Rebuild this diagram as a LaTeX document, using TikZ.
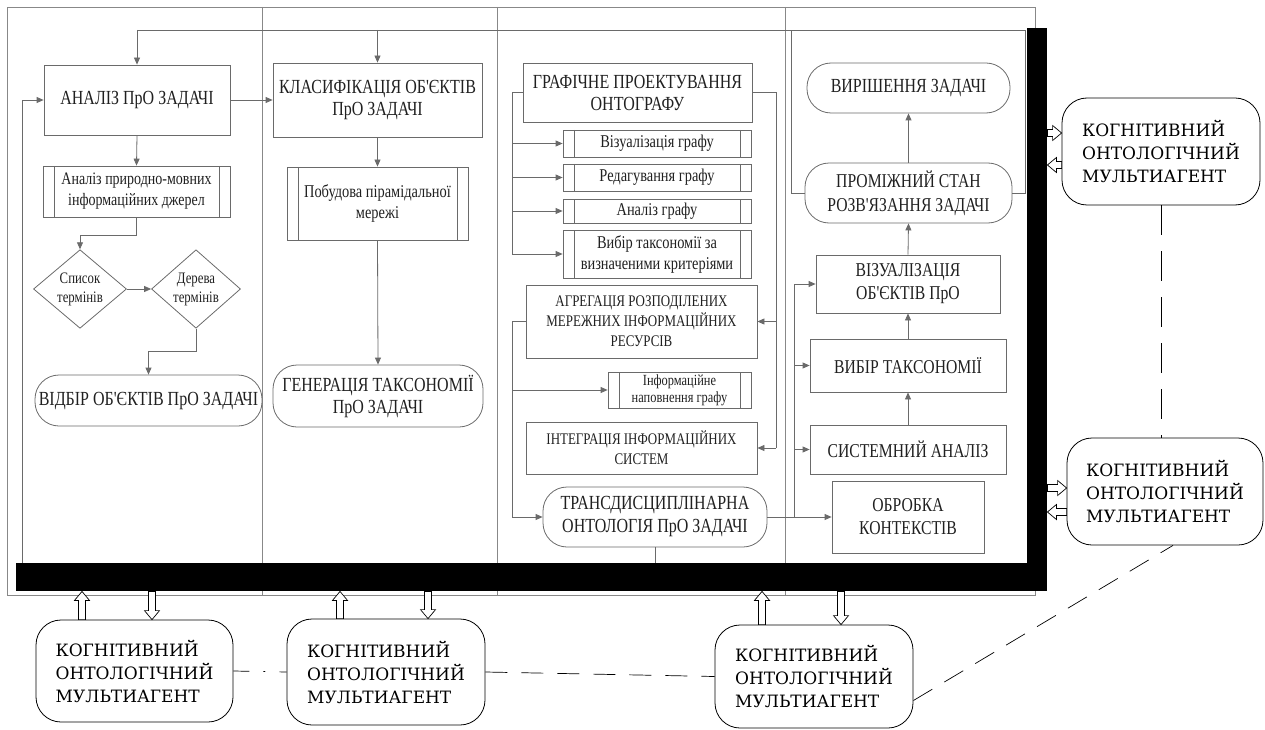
\documentclass[tikz,border=0pt]{standalone}
\usepackage{fontspec}
\setmainfont{Liberation Serif}
\newfontfamily\boxfont{Liberation Serif}[FakeStretch=0.8]
\newfontfamily\agentfont{DejaVu Serif}
\usetikzlibrary{arrows.meta,positioning,shapes.geometric,calc}
\definecolor{linec}{HTML}{6A6A6A}
\definecolor{txtc}{HTML}{202020}

\begin{document}
\begin{tikzpicture}[x=1pt, y=-1pt, line width=0.8pt,
  proc/.style={rectangle, draw=linec, text=txtc, align=center, inner sep=1pt, font=\boxfont\fontsize{20}{22}\selectfont},
  sub/.style={proc, font=\boxfont\fontsize{18}{21}\selectfont, path picture={\draw[linec] ([xshift=11pt]path picture bounding box.north west) -- ([xshift=11pt]path picture bounding box.south west) ([xshift=-11pt]path picture bounding box.north east) -- ([xshift=-11pt]path picture bounding box.south east);}},
  term/.style={proc, rounded corners=24pt},
  dec/.style={diamond, draw=linec, text=txtc, align=center, inner sep=0pt, font=\boxfont\fontsize{16}{19}\selectfont},
  agent/.style={draw=black, rounded corners=25pt, align=left, text=black, font=\agentfont\fontsize{17}{23}\selectfont},
  bar/.style={fill=black, inner sep=0pt},
  frame/.style={draw=linec!80, line width=0.6pt},
  wire/.style={draw=linec},
  flow/.style={draw=linec, -{Triangle[length=7pt, width=6pt]}},
  hollow/.style={draw=black, fill=white, line width=0.7pt, to path={
    ($(\tikztostart)!3.5pt!90:(\tikztotarget)$) -- ($(\tikztotarget)!9pt!(\tikztostart)!3.5pt!90:(\tikztotarget)$)
    -- ($(\tikztotarget)!9pt!(\tikztostart)!7.5pt!90:(\tikztotarget)$) -- (\tikztotarget)
    -- ($(\tikztotarget)!9pt!(\tikztostart)!7.5pt!-90:(\tikztotarget)$) -- ($(\tikztotarget)!9pt!(\tikztostart)!3.5pt!-90:(\tikztotarget)$)
    -- ($(\tikztostart)!3.5pt!-90:(\tikztotarget)$) -- cycle}},
  dashlink/.style={draw=black, line width=0.7pt, dash pattern=on 30pt off 16pt},
  dashlink2/.style={draw=black, line width=0.7pt, dash pattern=on 22pt off 14pt},
  dotlink/.style={draw=black, line width=0.7pt, dash pattern=on 16pt off 14pt on 2pt off 14pt}]
\useasboundingbox (0,0) rectangle (1265,730);
% frame and lanes
\draw[frame] (7,7) rectangle (1035,595);
\foreach \x in {262,497,785} \draw[frame] (\x,7) -- (\x,595);
\node[bar, minimum width=20, minimum height=562] (vbar) at (1037,309) {};
\node[bar, minimum width=1031, minimum height=28] (hbar) at (531.5,577) {};

\begin{scope}
% lane 1
\node[proc, minimum width=186, minimum height=70] (a1) at (137,100) {АНАЛІЗ ПрО ЗАДАЧІ};
\node[sub, minimum width=187, minimum height=51, font=\boxfont\fontsize{17.5}{21}\selectfont] (a2) at (136.5,191.5) {Аналіз природно-мовних\\інформаційних джерел};
\node[dec, minimum width=93, minimum height=72] (d1) at (80,289) {Список\\термінів};
\node[dec, minimum width=89, minimum height=72] (d2) at (196,289) {Дерева\\термінів};
\node[term, minimum width=227, minimum height=51] (a3) at (148.5,400.5) {ВІДБІР ОБ'ЄКТІВ ПрО ЗАДАЧІ};
% lane 2
\node[proc, minimum width=209, minimum height=74] (b1) at (377.5,100) {КЛАСИФІКАЦІЯ ОБ'ЄКТІВ\\ПрО ЗАДАЧІ};
\node[sub, minimum width=181, minimum height=73] (b2) at (377.5,203.5) {Побудова пірамідальної\\мережі};
\node[term, minimum width=210, minimum height=62] (b3) at (378,396) {ГЕНЕРАЦІЯ ТАКСОНОМІЇ\\ПрО ЗАДАЧІ};
% lane 3
\node[proc, minimum width=229, minimum height=59] (c1) at (637.5,92.5) {ГРАФІЧНЕ ПРОЕКТУВАННЯ\\ОНТОГРАФУ};
\node[sub, minimum width=188, minimum height=27] (c2) at (657,143.5) {Візуалізація графу};
\node[sub, minimum width=188, minimum height=27] (c3) at (657,177.5) {Редагування графу};
\node[sub, minimum width=188, minimum height=24] (c4) at (657,211) {Аналіз графу};
\node[sub, minimum width=188, minimum height=48] (c5) at (657,254) {Вибір таксономії за\\визначеними критеріями};
\node[proc, minimum width=231, minimum height=73, font=\boxfont\fontsize{16.2}{20}\selectfont] (c6) at (641.5,321.5) {АГРЕГАЦІЯ РОЗПОДІЛЕНИХ\\МЕРЕЖНИХ ІНФОРМАЦІЙНИХ\\РЕСУРСІВ};
\node[sub, minimum width=143, minimum height=36, font=\boxfont\fontsize{15.5}{17}\selectfont] (c7) at (679.5,390) {Інформаційне\\наповнення графу};
\node[proc, minimum width=231, minimum height=52, font=\boxfont\fontsize{16.2}{20}\selectfont] (c8) at (641.5,448) {ІНТЕГРАЦІЯ ІНФОРМАЦІЙНИХ\\СИСТЕМ};
\node[term, minimum width=224, minimum height=60, font=\boxfont\fontsize{20}{23}\selectfont] (c9) at (655,517) {ТРАНСДИСЦИПЛІНАРНА\\ОНТОЛОГІЯ ПрО ЗАДАЧІ};
% lane 4
\node[term, minimum width=203, minimum height=50, font=\boxfont\fontsize{20}{23}\selectfont] (e1) at (908.5,88) {ВИРІШЕННЯ ЗАДАЧІ};
\node[term, minimum width=207, minimum height=60, font=\boxfont\fontsize{19.6}{24}\selectfont] (e2) at (908.5,193) {ПРОМІЖНИЙ СТАН\\РОЗВ'ЯЗАННЯ ЗАДАЧІ};
\node[proc, minimum width=184, minimum height=58, font=\boxfont\fontsize{19.6}{23}\selectfont] (e3) at (908,284) {ВІЗУАЛІЗАЦІЯ\\ОБ'ЄКТІВ ПрО};
\node[proc, minimum width=196, minimum height=53, font=\boxfont\fontsize{19.6}{23}\selectfont] (e4) at (908,365.5) {ВИБІР ТАКСОНОМІЇ};
\node[proc, minimum width=196, minimum height=49, font=\boxfont\fontsize{19.6}{23}\selectfont] (e5) at (908,449.5) {СИСТЕМНИЙ АНАЛІЗ};
\node[proc, minimum width=152, minimum height=72, font=\boxfont\fontsize{19.6}{23}\selectfont] (e6) at (908,517) {ОБРОБКА\\КОНТЕКСТІВ};
% agents
\node[agent, minimum width=198, minimum height=107] (r1) at (1161,151.5) {КОГНІТИВНИЙ\\ОНТОЛОГІЧНИЙ\\МУЛЬТИАГЕНТ};
\node[agent, minimum width=196, minimum height=107] (r2) at (1165,491.5) {КОГНІТИВНИЙ\\ОНТОЛОГІЧНИЙ\\МУЛЬТИАГЕНТ};
\node[agent, minimum width=197, minimum height=102] (g1) at (134.5,671) {КОГНІТИВНИЙ\\ОНТОЛОГІЧНИЙ\\МУЛЬТИАГЕНТ};
\node[agent, minimum width=198, minimum height=106] (g2) at (386,672) {КОГНІТИВНИЙ\\ОНТОЛОГІЧНИЙ\\МУЛЬТИАГЕНТ};
\node[agent, minimum width=198, minimum height=103] (g3) at (814,676.5) {КОГНІТИВНИЙ\\ОНТОЛОГІЧНИЙ\\МУЛЬТИАГЕНТ};
\end{scope}

\begin{scope}
\coordinate (fb) at (22,0);
\coordinate (loopL) at (791,30);
\coordinate (loopR) at (1025,30);
\coordinate (gl) at (512,0);
\coordinate (gr) at (776,0);
\coordinate (er) at (794,0);
% loop over the top
\draw[wire] (e2.west) -| (loopL) -- (loopR) |- (e2.east);
\draw[wire] (loopL) -- (a1.north |- loopL);
\draw[flow] (a1.north |- loopL) -- (a1.north);
\draw[flow] (b1.north |- loopL) -- (b1.north);
\draw[flow] (fb |- hbar.north) |- (a1.west);
% lane 1
\draw[flow] (a1.east) -- (b1.west);
\draw[flow] (a1.south) -- (a2.north);
\draw[flow] (a2.south) -- ++(0,18) -| (d1.north);
\draw[flow] (d1.east) -- (d2.west);
\draw[flow] (d2.south) -- ++(0,23) -| (a3.north);
% lane 2
\draw[flow] (b1.south) -- (b2.north);
\draw[flow] (b2.south) -- (b3.north);
% lane 3
\draw[wire] (c1.west) -| (gl |- c5.west);
\foreach \n in {c2,c3,c4,c5} \draw[flow] (gl |- \n.west) -- (\n.west);
\draw[wire] (c1.east) -| (gr |- c8.east);
\draw[flow] (gr |- c6.east) -- (c6.east);
\draw[flow] (gr |- c8.east) -- (c8.east);
\draw[wire] (c6.west) -| (gl |- c9.west);
\draw[flow] (gl |- c7.west) -- (c7.west);
\draw[flow] (gl |- c9.west) -- (c9.west);
\draw[wire] (c9.south) -- (c9.south |- hbar.north);
% lane 4
\draw[flow] (c9.east) -- (e6.west);
\draw[wire] (er |- e6.west) -- (er |- e3.west);
\foreach \n in {e3,e4,e5} \draw[flow] (er |- \n.west) -- (\n.west);
\draw[flow] (e5.north) -- (e4.south);
\draw[flow] (e4.north) -- (e3.south);
\draw[flow] (e3.north) -- (e2.south);
\draw[flow] (e2.north) -- (e1.south);
% agents to the bars
\foreach \a/\u/\d in {g1/-52.5/17.5, g2/-46/42, g3/-52/27} {
  \draw[hollow] ([xshift=\u pt]\a.north) to ([xshift=\u pt]\a.north |- hbar.south);
  \draw[hollow] ([xshift=\d pt]\a.north |- hbar.south) to ([xshift=\d pt]\a.north);
}
\foreach \a/\i/\o in {r1/18.5/-13.5, r2/3.5/-20.5} {
  \draw[hollow] ([yshift=\i pt]\a.west -| vbar.east) to ([yshift=\i pt]\a.west);
  \draw[hollow] ([yshift=\o pt]\a.west) to ([yshift=\o pt]\a.west -| vbar.east);
}
% links between agents
\draw[dashlink] (r1.south) -- (r1.south |- r2.north);
\draw[dotlink] (g1.east) -- (g2.west);
\draw[dashlink2] (g2.east) -- (g3.west);
\draw[dashlink2] ([yshift=-24pt]g3.east) -- ([xshift=8pt]r2.south);
\end{scope}
\end{tikzpicture}
\end{document}
